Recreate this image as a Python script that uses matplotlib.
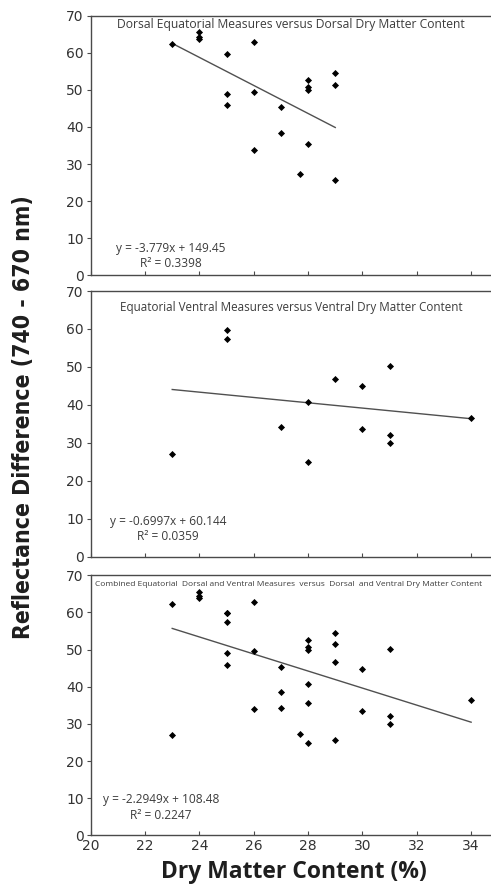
import matplotlib
matplotlib.use("Agg")
import matplotlib.pyplot as plt
from matplotlib import font_manager
import numpy as np

# Panel 1: dorsal
dorsal_x = [23, 24, 24, 24, 25, 25, 25, 26, 26, 26, 27, 27, 27.7, 28, 28, 28, 28, 29, 29, 29]
dorsal_y = [62.3, 65.6, 64.3, 63.8, 59.8, 49.0, 45.9, 62.9, 49.5, 33.9, 45.4, 38.5, 27.4,
            52.6, 50.7, 50.0, 35.5, 54.6, 51.4, 25.6]
# Panel 2: ventral
ventral_x = [23, 25, 25, 27, 28, 28, 29, 30, 30, 31, 31, 31, 34]
ventral_y = [27.05, 59.8, 57.4, 34.2, 40.8, 24.9, 46.7, 44.9, 33.6, 50.2, 32.1, 30.0, 36.5]
# Panel 3: combined
combined_x = dorsal_x + ventral_x
combined_y = dorsal_y + ventral_y

titles = ["Dorsal Equatorial Measures versus Dorsal Dry Matter Content",
          "Equatorial Ventral Measures versus Ventral Dry Matter Content",
          "Combined Equatorial  Dorsal and Ventral Measures  versus  Dorsal  and Ventral Dry Matter Content"]
slopes = [-3.779, -0.6997, -2.2949]
intercepts = [149.45, 60.144, 108.48]
r2 = ["0.3398", "0.0359", "0.2247"]
eq_text = ["y = -3.779x + 149.45", "y = -0.6997x + 60.144", "y = -2.2949x + 108.48"]

xticks = [20, 22, 24, 26, 28, 30, 32, 34]
yticks = [0, 10, 20, 30, 40, 50, 60, 70]

W, H = 491, 886
fig = plt.figure(figsize=(W / 100, H / 100), dpi=100)

panels = [(dorsal_x, dorsal_y), (ventral_x, ventral_y), (combined_x, combined_y)]
tops = [15.7, 291, 575.3]
bottoms = [275.3, 556.7, 835.3]
left_px = 90.7
right_px = 491.5
title_fs = [8.7, 8.4, 6.0]
title_y = [24.5, 307, 584]
eq_pos = [(0.20, 0.074), (0.193, 0.104), (0.175, 0.107)]

spine_col = "#4a4a4a"
txt_col = "#3c3c3c"
for i, (xs, ys) in enumerate(panels):
    ax = fig.add_axes([left_px / W, 1 - bottoms[i] / H, (right_px - left_px) / W,
                       (bottoms[i] - tops[i]) / H])
    ax.scatter(xs, ys, marker="D", s=13, color="black", zorder=3, linewidths=0)
    lx = np.array([min(xs), max(xs)])
    ax.plot(lx, slopes[i] * lx + intercepts[i], color="#505050", lw=1.0, zorder=2)
    ax.set_xlim(20, 34.75)
    ax.set_ylim(0, 70)
    ax.set_xticks(xticks)
    ax.set_yticks(yticks)
    for s in ax.spines.values():
        s.set_color(spine_col)
        s.set_linewidth(1.0)
    ax.tick_params(axis="y", direction="out", length=3, color=spine_col,
                   labelsize=10, labelcolor="#333333", pad=2)
    ax.tick_params(axis="x", direction="in", length=3, color=spine_col,
                   labelsize=10, labelcolor="#333333", pad=3)
    if i < 2:
        ax.tick_params(axis="x", labelbottom=False)
    ty = 1 - (title_y[i] - tops[i]) / (bottoms[i] - tops[i])
    if i < 2:
        ax.text(0.5, ty, titles[i], transform=ax.transAxes, ha="center", va="center",
                fontsize=title_fs[i], color=txt_col, family="Open Sans")
    else:
        ax.text((95 - left_px) / (right_px - left_px), ty, titles[i], transform=ax.transAxes,
                ha="left", va="center", fontsize=title_fs[i], color=txt_col,
                family="Open Sans", clip_on=False)
    ax.text(eq_pos[i][0], eq_pos[i][1], eq_text[i] + "\nR² = " + r2[i], transform=ax.transAxes,
            ha="center", va="center", fontsize=8.6, color=txt_col,
            family="Open Sans", linespacing=1.25, multialignment="center")

# y label: prefer a condensed face if one is installed
cond = [f for f in font_manager.fontManager.ttflist
        if f.name == "DejaVu Sans" and str(f.stretch) in ("condensed", "semi-condensed")]
if cond:
    ykw = dict(family="DejaVu Sans", fontstretch="condensed", fontweight="bold")
else:
    ykw = dict(family="Roboto", fontweight="bold")
ylab = fig.text(24 / W, 1 - 417 / H, "Reflectance Difference (740 - 670 nm)", rotation=90,
                ha="center", va="center", fontsize=16, color="#1e1e1e", **ykw)
renderer = fig.canvas.get_renderer()
h = ylab.get_window_extent(renderer).height
ylab.set_fontsize(16 * 445 / h)

fig.text(294 / W, 1 - 872 / H, "Dry Matter Content (%)", ha="center", va="center",
         fontsize=16.5, fontweight="bold", family="Open Sans", color="#1e1e1e")

fig.savefig("out.png", dpi=100)
